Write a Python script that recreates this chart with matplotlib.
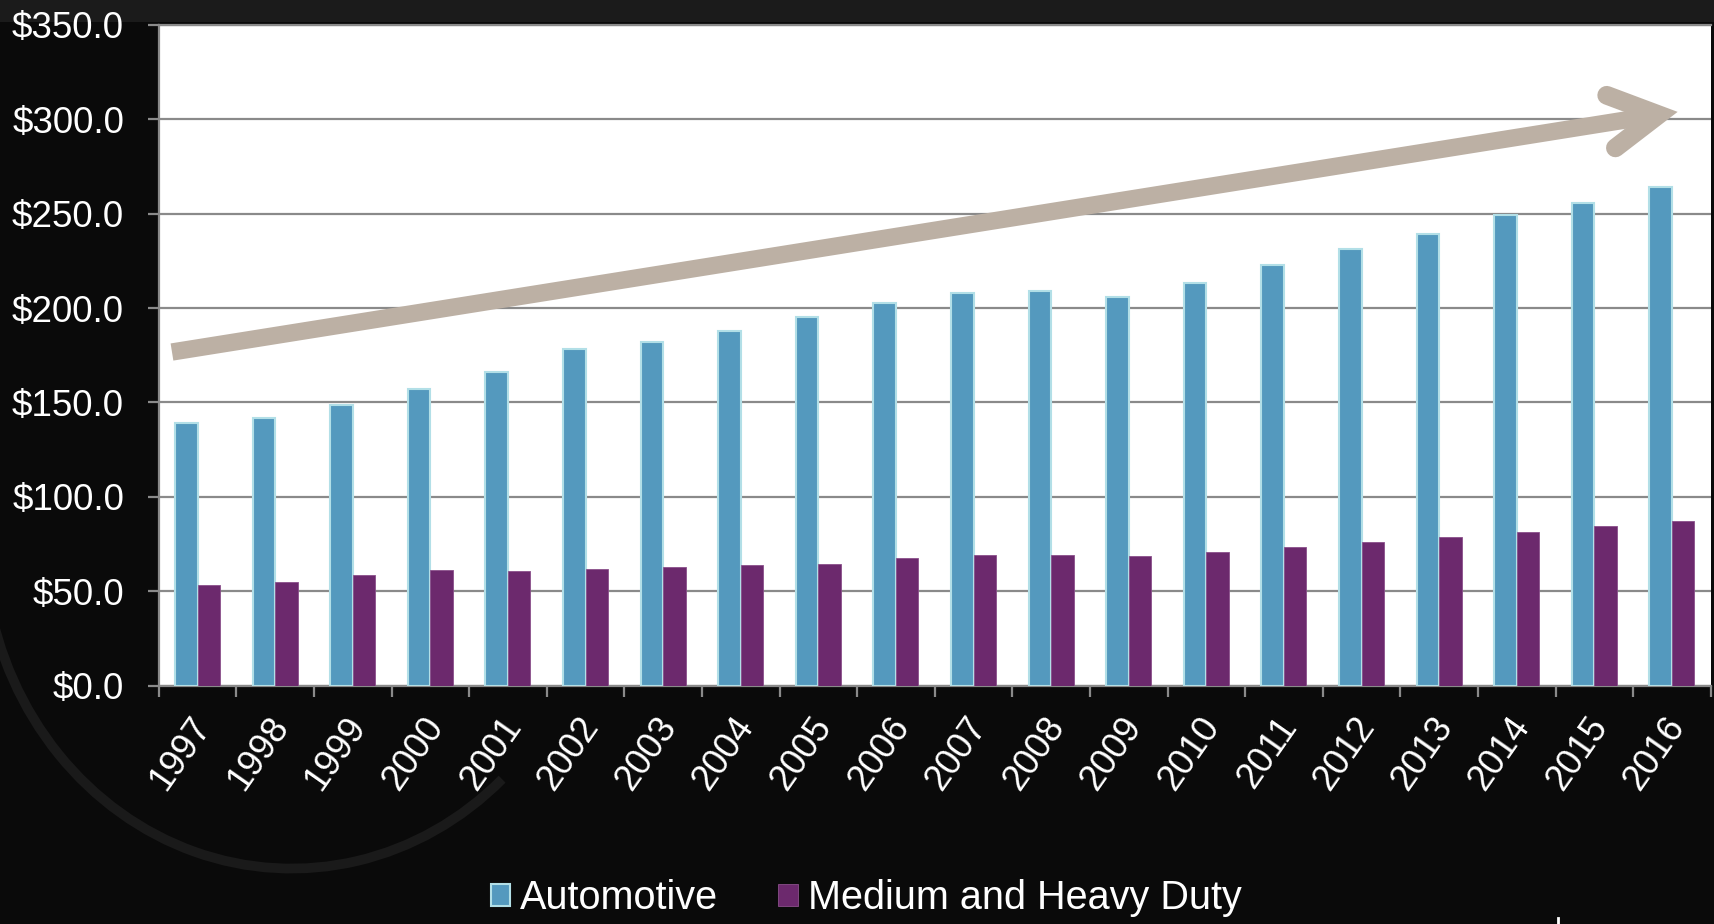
import matplotlib.pyplot as plt
import matplotlib.transforms as mtransforms
from matplotlib.patches import Rectangle, Arc
from matplotlib.lines import Line2D

plt.rcParams['font.family'] = ['Liberation Sans', 'DejaVu Sans']

years = [str(y) for y in range(1997, 2017)]
automotive = [139.0, 141.8, 148.7, 157.3, 166.2, 178.2, 182.2, 188.0, 195.0, 202.5,
              208.2, 208.8, 206.0, 213.4, 222.8, 231.4, 239.2, 249.2, 255.6, 263.9]
heavy_duty = [53.3, 55.0, 58.6, 61.4, 60.7, 61.7, 62.9, 64.0, 64.6, 67.5,
              69.2, 69.2, 68.6, 70.9, 73.8, 76.3, 79.0, 81.6, 84.4, 87.1]
y_ticks = [0, 50, 100, 150, 200, 250, 300, 350]

BLUE = '#5499be'
BLUE_EDGE = '#b2dfe7'
PURPLE = '#6c296d'
GRID = '#8a8a8a'
ARROW = '#bcb0a4'

fig = plt.figure(figsize=(17.15, 9.24), dpi=100)
fig.patch.set_facecolor('#0a0a0a')

# dark slide backdrop: lighter band along the top, faint swirl bottom left
fig.patches.append(Rectangle((0, 0.976), 1, 0.024, transform=fig.transFigure,
                             facecolor='#1b1b1b', edgecolor='none', zorder=-2))
fig.patches.append(Arc((0.17, 0.42), 0.36, 0.72, theta1=200, theta2=295,
                       transform=fig.transFigure, color='#1a1a1a', lw=7, zorder=-2))
fig.lines.append(Line2D([0.9085, 0.9085], [0.0, 0.0065], transform=fig.transFigure,
                        color='white', lw=2))

ax = fig.add_axes([0.09259, 0.25758, 0.90490, 0.71590])
ax.set_facecolor('white')
ax.set_zorder(2)

x = list(range(len(years)))
w = 0.29
ax.bar([i - w / 2 for i in x], automotive, width=w, color=BLUE, edgecolor=BLUE_EDGE,
       linewidth=1.5, label='Automotive', zorder=3)
ax.bar([i + w / 2 for i in x], heavy_duty, width=w, color=PURPLE, edgecolor='#8a4f8b',
       linewidth=0.6, label='Medium and Heavy Duty', zorder=3)

ax.set_xlim(-0.5, len(years) - 0.5)
ax.set_ylim(0, 350)

ax.set_yticks(y_ticks)
ax.set_yticklabels(['${:.1f}'.format(v) for v in y_ticks])
ax.yaxis.grid(True, color=GRID, linewidth=1.6, zorder=0)
ax.set_axisbelow(True)

# year labels at bar centres, tick marks on the category boundaries
ax.set_xticks(x)
ax.set_xticklabels(years, rotation=55, ha='right', va='center', rotation_mode='anchor')
ax.set_xticks([i - 0.5 for i in range(len(years) + 1)], minor=True)
ax.tick_params(axis='x', which='major', length=0, pad=25, colors='white', labelsize=26)
ax.tick_params(axis='x', which='minor', length=8, width=1.6, color=GRID)
ax.tick_params(axis='y', length=8, width=1.6, color=GRID, pad=17, labelcolor='white',
               labelsize=26.5)
shift = mtransforms.ScaledTranslation(0.06, 0, fig.dpi_scale_trans)
for lbl in ax.get_xticklabels():
    lbl.set_transform(lbl.get_transform() + shift)

ax.spines['right'].set_visible(False)
for side in ['left', 'bottom', 'top']:
    ax.spines[side].set_color(GRID)
    ax.spines[side].set_linewidth(1.6)

# growth arrow across the chart
ax.plot([0.0085, 0.9664], [0.5049, 0.8636], transform=ax.transAxes, color=ARROW,
        lw=12.5, solid_capstyle='butt', zorder=5, clip_on=False)
ax.plot([0.9330, 0.9664, 0.9386], [0.8930, 0.8636, 0.8135], transform=ax.transAxes,
        color=ARROW, lw=13.5, solid_capstyle='round', solid_joinstyle='miter', zorder=5,
        clip_on=False)

leg = fig.legend(loc='center', bbox_to_anchor=(0.505, 0.028), ncol=2, frameon=False,
                 fontsize=28.5, labelcolor='white', handlelength=0.5, handleheight=0.5,
                 handletextpad=0.25, columnspacing=1.5)

fig.savefig('out.png', dpi=100, facecolor=fig.get_facecolor())
